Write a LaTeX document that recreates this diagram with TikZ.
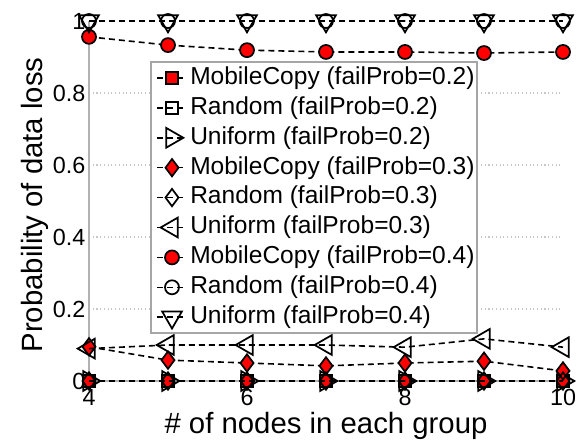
\documentclass[tikz,border=0pt]{standalone}
\usepackage{fontspec}
\setmainfont{Liberation Sans}
\usetikzlibrary{plotmarks}

\tikzset{
  series/.style={draw=black, line width=1.2pt, dash pattern=on 4.5pt off 3pt},
  mc2/.style={mark=square*, mark size=4.5pt, mark options={solid, line width=1.3pt, fill=red}},
  rd2/.style={mark=square, mark size=4.5pt, mark options={solid, line width=1.3pt}},
  un2/.style={mark=triangle, mark size=8.5pt, mark options={solid, line width=1.3pt, rotate=-90}},
  mc3/.style={mark=diamond*, mark size=6.5pt, mark options={solid, line width=1.3pt, fill=red}},
  rd3/.style={mark=diamond, mark size=6.5pt, mark options={solid, line width=1.3pt}},
  un3/.style={mark=triangle, mark size=8.5pt, mark options={solid, line width=1.3pt, rotate=90}},
  mc4/.style={mark=*, mark size=5.25pt, mark options={solid, line width=1.3pt, fill=red}},
  rd4/.style={mark=o, mark size=5.25pt, mark options={solid, line width=1.3pt}},
  un4/.style={mark=triangle, mark size=8.5pt, mark options={solid, line width=1.3pt, rotate=180}},
  gridline/.style={gray!45, line width=0.8pt, dotted},
  axisline/.style={gray!60, line width=0.8pt},
  ticklab/.style={inner sep=0pt, font=\fontsize{17.5pt}{19pt}\selectfont},
  legtext/.style={inner sep=0pt, anchor=west, font=\fontsize{18.4pt}{20pt}\selectfont},
  axislab/.style={inner sep=0pt, font=\fontsize{22pt}{24pt}\selectfont}
}

\begin{document}
\begin{tikzpicture}[x=0.75pt,y=0.75pt]
\useasboundingbox (0,0) rectangle (584,439);

%%% plot area
\begin{scope}[shift={(-170.25pt,43.5pt)},x=59.25pt,y=270pt]
  \foreach \v in {0.2,0.4,0.6,0.8}
    \draw[gridline] (4,\v) -- (9.96,\v);
  \draw[axisline] (4,1) -- (4,0) -- (10,0);

  \foreach \v [count=\k] in {0,0.2,0.4,0.6,0.8,1}
    \node[ticklab, anchor=east] (ytick\k) at ([xshift=-2.5pt]4,\v) {\v};
  \foreach \u in {4,6,8,10}
    \node[ticklab, anchor=north] (xtick\u) at ([yshift=-6pt]\u,0) {\u};

  \draw[series,mc2] plot coordinates {(4,0) (5,0) (6,0) (7,0) (8,0) (9,0) (10,0)};
  \draw[series,rd2] plot coordinates {(4,0) (5,0) (6,0) (7,0) (8,0) (9,0) (10,0)};
  \draw[series,un2] plot coordinates {(4,0) (5,0) (6,0) (7,0) (8,0) (9,0) (10,0)};
  \draw[series,mc3] plot coordinates {(4,0.095) (5,0.058) (6,0.05) (7,0.042) (8,0.05) (9,0.055) (10,0.028)};
  \draw[series,rd3] plot coordinates {(4,0) (5,0) (6,0) (7,0) (8,0) (9,0) (10,0)};
  \draw[series,un3] plot coordinates {(4,0.09) (5,0.1) (6,0.1) (7,0.1) (8,0.094) (9,0.117) (10,0.094)};
  \draw[series,mc4] plot coordinates {(4,0.956) (5,0.933) (6,0.919) (7,0.914) (8,0.914) (9,0.911) (10,0.914)};
  \draw[series,rd4] plot coordinates {(4,1) (5,1) (6,1) (7,1) (8,1) (9,1) (10,1)};
  \draw[series,un4] plot coordinates {(4,1) (5,1) (6,1) (7,1) (8,1) (9,1) (10,1)};
\end{scope}

%%% legend
\draw[gray!70, line width=0.8pt, fill=white] (151,106) rectangle (477,377);
\foreach \st/\txt [count=\i] in {
    mc2/{MobileCopy (failProb=0.2)}, rd2/{Random (failProb=0.2)}, un2/{Uniform (failProb=0.2)},
    mc3/{MobileCopy (failProb=0.3)}, rd3/{Random (failProb=0.3)}, un3/{Uniform (failProb=0.3)},
    mc4/{MobileCopy (failProb=0.4)}, rd4/{Random (failProb=0.4)}, un4/{Uniform (failProb=0.4)}} {
  \coordinate (sl\i) at (157,{361-29.9*(\i-1)});
  \coordinate (sm\i) at (172,{361-29.9*(\i-1)});
  \coordinate (sr\i) at (187,{361-29.9*(\i-1)});
  \draw[series] (sl\i) -- (sr\i);
  \path[series,\st] plot coordinates {(sm\i)};
  \node[legtext] (leg\i) at (190,{361-29.9*(\i-1)}) {\txt};
}

%%% axis labels
\node[axislab, rotate=90] (ylab) at (35,234) {Probability of data loss};
\node[axislab] (xlab) at (326,13) {\# of nodes in each group};
\end{tikzpicture}
\end{document}
